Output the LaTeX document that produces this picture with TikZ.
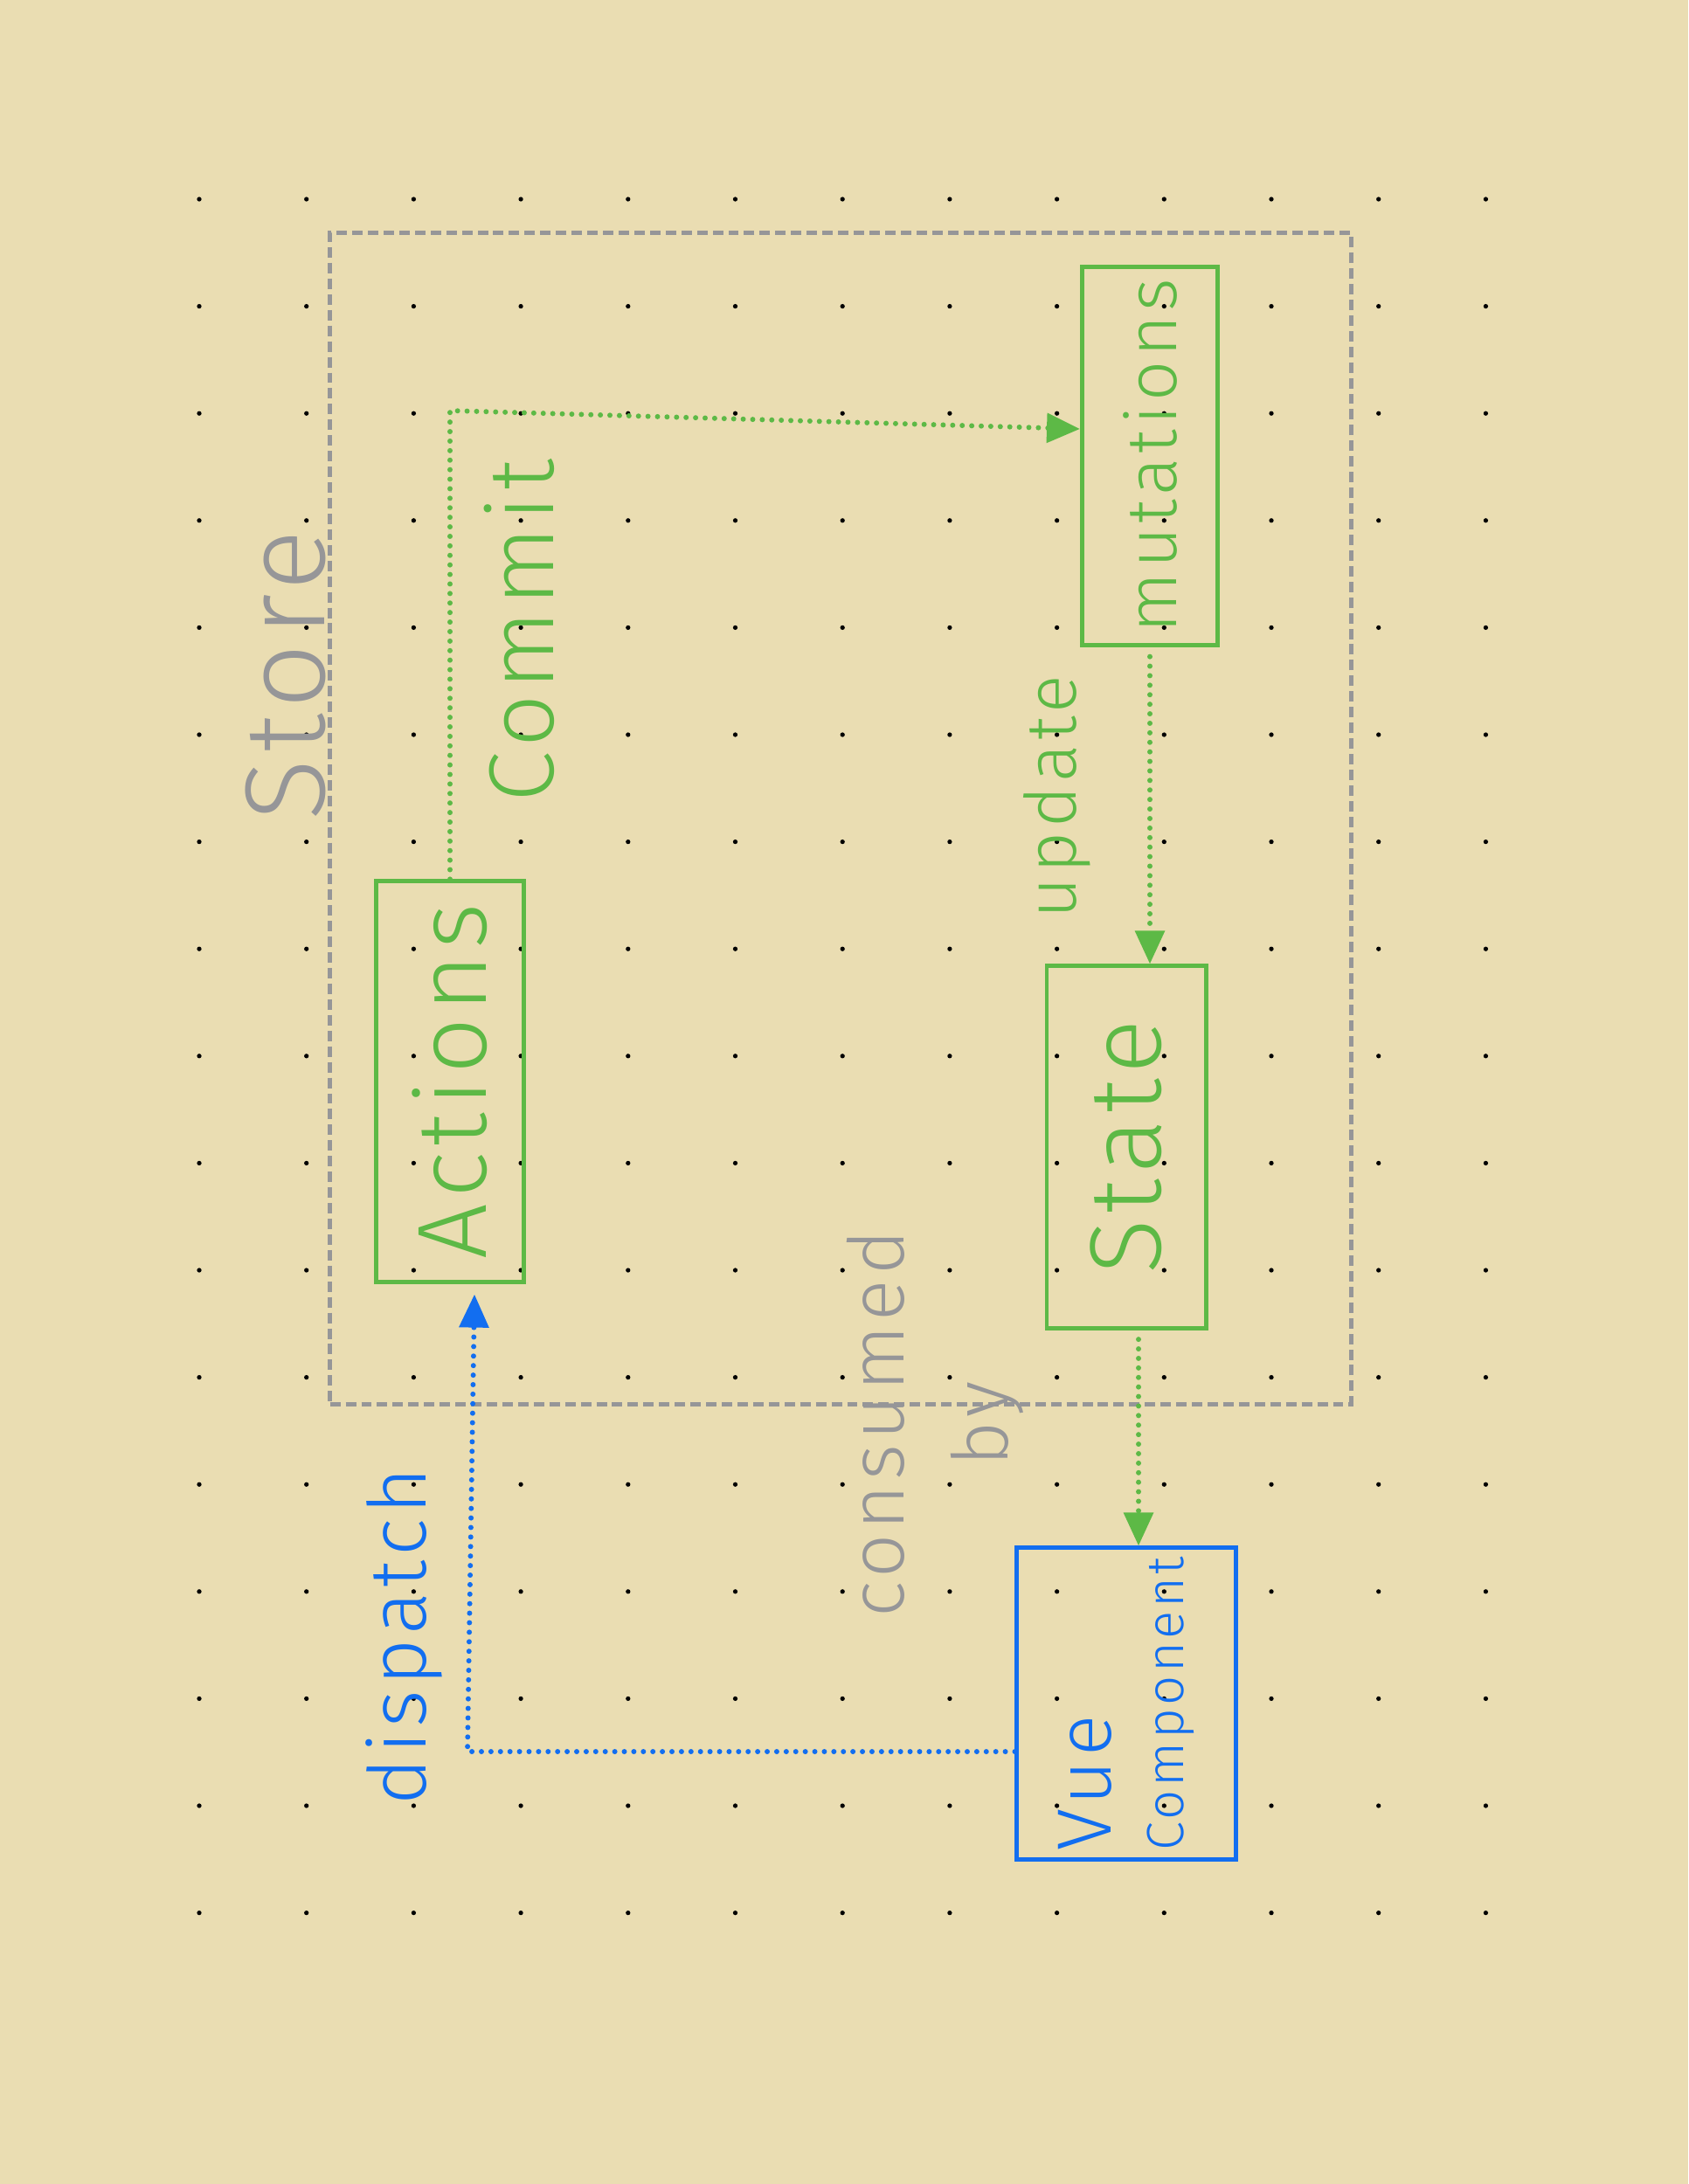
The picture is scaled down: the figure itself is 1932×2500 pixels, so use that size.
\documentclass[tikz,border=0pt]{standalone}
\usepackage{fontspec}
\newfontfamily\handfont[LetterSpace=6]{Fira Sans Light}
\usetikzlibrary{arrows.meta}

\definecolor{paper}{RGB}{234,221,178}
\definecolor{pin}{RGB}{128,120,100}
\definecolor{storegray}{RGB}{150,150,152}
\definecolor{vuexgreen}{RGB}{93,185,70}
\definecolor{vuexblue}{RGB}{18,110,240}

% rotated hand label: size, text
\newcommand{\hand}[2]{\rotatebox{90}{\fontsize{#1}{#1}\selectfont #2}}

\begin{document}
\begin{tikzpicture}[x=0.01cm, y=-0.01cm, font=\handfont,
  storeline/.style={draw=storegray, line width=1.5pt, dash pattern=on 3.4pt off 1.7pt, inner sep=0pt},
  box/.style={draw=#1, line width=1.4pt, text=#1, inner sep=0pt},
  flow/.style={draw=#1, line width=1.7pt, line cap=round, dash pattern=on 0pt off 3.1pt,
    -{Triangle[length=10.8pt,width=9.4pt]}}]

  % paper and dot grid
  \fill[paper] (0,0) rectangle (1932,2500);
  \foreach \i in {0,...,12}
    \foreach \j in {0,...,16}
      \fill[pin] (228+122.7*\i, 228+122.6*\j) circle (0.75pt);

  % the store
  \node[storeline, minimum width=11.68cm, minimum height=13.4cm] (store) at (962,937) {};
  \node[text=storegray] (storelabel) at (327,773) {\hand{37}{Store}};

  % boxes
  \node[box=vuexgreen, minimum width=1.69cm, minimum height=4.58cm] (actions) at (515,1238) {\hand{32}{Actions}};
  \node[box=vuexgreen, minimum width=1.55cm, minimum height=4.33cm] (mutations) at (1316,522) {\hand{23}{mutations}};
  \node[box=vuexgreen, minimum width=1.82cm, minimum height=4.14cm] (state) at (1289,1313) {\hand{33}{State}};
  \node[box=vuexblue, minimum width=2.5cm, minimum height=3.56cm] (vue) at (1289,1950)
    {\rotatebox{90}{\begin{tabular}{@{}l@{}}{\fontsize{25}{25}\selectfont Vue}\\[8pt]{\fontsize{17}{17}\selectfont Component}\end{tabular}}};

  % labels
  \node[text=vuexgreen] (commitlabel) at (594,722) {\hand{30}{Commit}};
  \node[text=vuexgreen] (updatelabel) at (1210,912) {\hand{23}{update}};
  \node[text=storegray] (consumedlabel) at (1070,1630)
    {\rotatebox{90}{\fontsize{25}{34}\selectfont\begin{tabular}{@{}c@{}}consumed\\by\end{tabular}}};
  \node[text=vuexblue] (dispatchlabel) at (462,1873) {\hand{26}{dispatch}};

  % connectors
  \coordinate (commitbend) at (515,470);
  \coordinate (dispatchbend) at (535,2005);
  \draw[flow=vuexgreen] (actions.north) -- (commitbend) -- ([yshift=0.31cm]mutations.west);
  \draw[flow=vuexgreen, shorten <=3pt] (mutations.south) -- (mutations.south |- state.north);
  \draw[flow=vuexgreen, shorten <=3pt] ([xshift=0.14cm]state.south) -- ([xshift=0.14cm]state.south |- vue.north);
  \draw[flow=vuexblue] ([yshift=-0.55cm]vue.west) -- (dispatchbend) -- ([xshift=0.28cm,yshift=-0.12cm]actions.south);
\end{tikzpicture}
\end{document}
